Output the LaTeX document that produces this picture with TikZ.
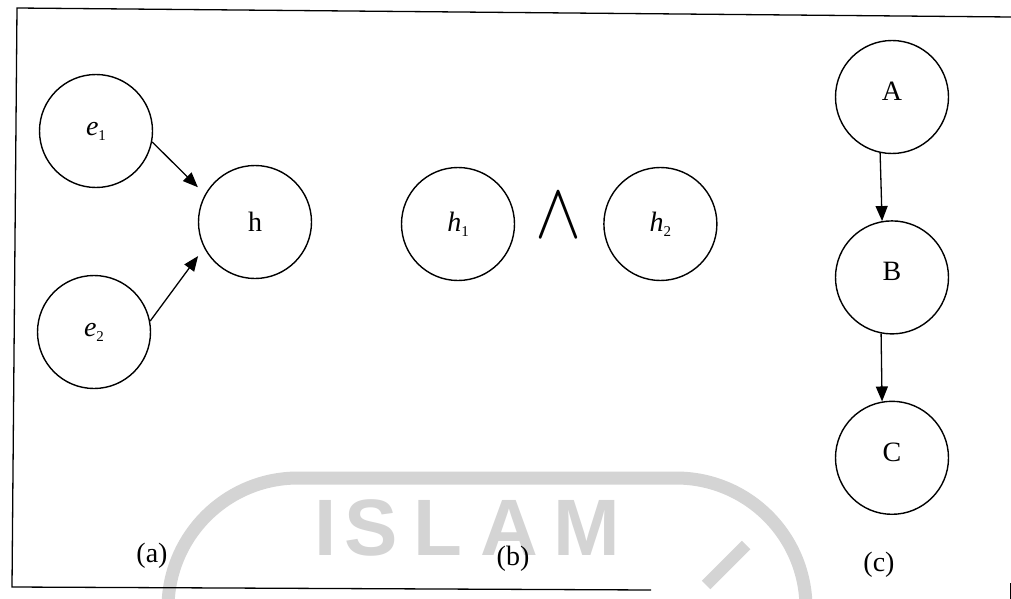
\documentclass[tikz,border=0pt]{standalone}
\usepackage{fontspec}
\setmainfont{Liberation Serif}
\newfontfamily\wmfont{Liberation Sans}
\usetikzlibrary{arrows.meta,positioning}

\newcommand{\sublbl}[2]{\textit{#1}\raisebox{-5pt}{\fontsize{15}{15}\selectfont #2}}

\begin{document}
\begin{tikzpicture}[
    x=1pt, y=-1pt,
    node distance=66pt,
    circ/.style={draw, circle, line width=1.4pt, minimum size=113pt, inner sep=0pt,
                 font=\fontsize{28}{30}\selectfont},
    arr/.style={-{Triangle[length=15pt,width=12pt]}, line width=1.3pt},
    part/.style={font=\fontsize{28}{30}\selectfont},
    wm/.style={draw=black!17, line width=13pt},
]
\clip (0,0) rectangle (1011,599);
\fill[white] (0,0) rectangle (1011,599);

% watermark
\draw[wm, rounded corners=130pt] (168,700) -- (168,478) -- (806,478) -- (806,700);
\draw[wm, line width=12pt] (706,585) -- (746,545);
\foreach \ch/\xx in {I/314,S/344,L/413,A/480,M/553}
  \node[anchor=base west, inner sep=0pt, text=black!17,
        font=\wmfont\bfseries\fontsize{80}{80}\selectfont] at (\xx,555) {\ch};

% frame
\draw[line width=1.3pt] (1011,17) -- (17,8) -- (12,587) -- (651,590);
\draw[line width=1pt] (1010,583) -- (1010,599);

% (a)
\node[circ] (e1) at (96,131) {\sublbl{e}{1}};
\node[circ] (e2) at (94,332) {\sublbl{e}{2}};
\node[circ] (h) at (255,222) {h};
\draw[arr, shorten >=10pt] (e1.-11) -- (h.151);
\draw[arr, shorten >=10pt] (e2.11) -- (h.207);

% (b)
\node[circ] (h1) at (458,224) {\sublbl{h}{1}};
\node[circ, right=88pt of h1] (h2) {\sublbl{h}{2}};
\node[inner sep=0pt] (and) at (559,215) {\resizebox{46pt}{44pt}{$\wedge$}};

% (c)
\node[circ, text depth=12pt] (A) at (892,97) {A};
\node[circ, text depth=12pt, below=of A] (B) {B};
\node[circ, text depth=12pt, below=of B] (C) {C};
\draw[arr] (A.258) -- (B.100);
\draw[arr] (B.259) -- (C.100);

\node[part] (la) at (152,556) {(a)};
\node[part] (lb) at (513,559) {(b)};
\node[part] (lc) at (879,565) {(c)};
\end{tikzpicture}
\end{document}
